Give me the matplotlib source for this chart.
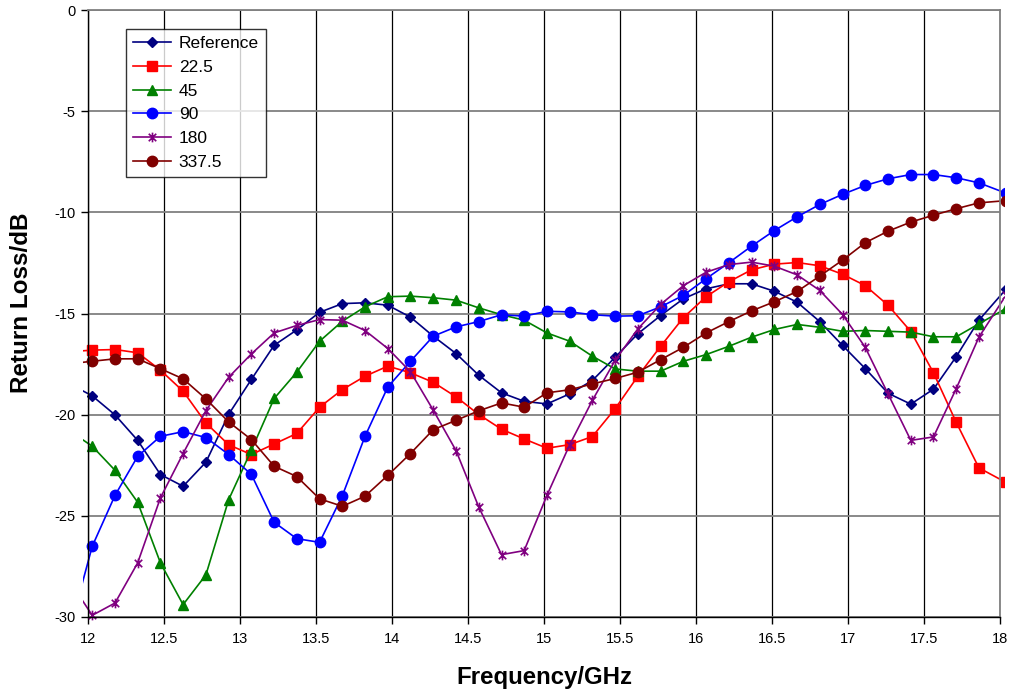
import numpy as np
import matplotlib.pyplot as plt
from matplotlib.path import Path
from matplotlib.transforms import Bbox, TransformedBbox

# sweep points (first and last sit just outside the plotted range)
freq = [11.86, 12.028, 12.178, 12.327, 12.477, 12.626, 12.776, 12.926, 13.075,
        13.225, 13.374, 13.524, 13.674, 13.823, 13.973, 14.122, 14.272, 14.422,
        14.571, 14.721, 14.870, 15.020, 15.170, 15.319, 15.469, 15.618, 15.768,
        15.918, 16.067, 16.217, 16.366, 16.516, 16.666, 16.815, 16.965, 17.114,
        17.264, 17.414, 17.563, 17.713, 17.862, 18.04]

rl_reference = [-18.4, -19.07, -20.01, -21.27, -22.96, -23.54, -22.35, -19.98, -18.26,
                -16.57, -15.81, -14.94, -14.51, -14.47, -14.59, -15.18, -16.12, -16.98,
                -18.05, -18.92, -19.34, -19.47, -18.97, -18.31, -17.16, -16.0, -15.1,
                -14.27, -13.78, -13.53, -13.53, -13.9, -14.44, -15.4, -16.58, -17.72,
                -18.94, -19.48, -18.74, -17.13, -15.33, -13.8]
rl_22_5 = [-16.9, -16.81, -16.78, -16.94, -17.8, -18.84, -20.41, -21.49, -21.97,
           -21.45, -20.93, -19.63, -18.76, -18.1, -17.6, -17.93, -18.4, -19.12,
           -19.99, -20.72, -21.2, -21.66, -21.48, -21.08, -19.7, -18.1, -16.62,
           -15.2, -14.17, -13.43, -12.84, -12.56, -12.48, -12.64, -13.06, -13.62,
           -14.59, -15.89, -17.93, -20.38, -22.63, -23.35]
rl_45 = [-20.7, -21.56, -22.75, -24.33, -27.33, -29.39, -27.92, -24.2, -21.76,
         -19.2, -17.9, -16.37, -15.38, -14.67, -14.17, -14.14, -14.22, -14.34,
         -14.72, -15.06, -15.33, -15.96, -16.37, -17.11, -17.74, -17.85, -17.85,
         -17.36, -17.03, -16.62, -16.17, -15.79, -15.54, -15.68, -15.88, -15.84,
         -15.88, -15.92, -16.15, -16.15, -15.51, -14.75]
rl_90 = [-31.2, -26.51, -23.99, -22.06, -21.07, -20.84, -21.13, -21.97, -22.95,
         -25.32, -26.13, -26.31, -24.0, -21.07, -18.63, -17.36, -16.12, -15.66,
         -15.4, -15.06, -15.13, -14.89, -14.92, -15.06, -15.13, -15.11, -14.67,
         -14.1, -13.28, -12.49, -11.67, -10.9, -10.22, -9.61, -9.11, -8.67,
         -8.34, -8.13, -8.13, -8.29, -8.54, -9.05]
rl_180 = [-28.0, -29.92, -29.31, -27.33, -24.11, -21.92, -19.8, -18.15, -17.0,
          -15.96, -15.59, -15.3, -15.33, -15.84, -16.73, -17.88, -19.78, -21.78,
          -24.56, -26.92, -26.72, -23.99, -21.48, -19.29, -17.31, -15.76, -14.55,
          -13.62, -12.96, -12.58, -12.46, -12.66, -13.09, -13.86, -15.05, -16.67,
          -18.97, -21.27, -21.1, -18.71, -16.17, -14.1]
rl_337_5 = [-17.5, -17.36, -17.24, -17.24, -17.73, -18.23, -19.22, -20.36, -21.23,
            -22.55, -23.06, -24.16, -24.53, -24.03, -23.0, -21.92, -20.74, -20.28,
            -19.81, -19.42, -19.63, -18.92, -18.77, -18.48, -18.21, -17.9, -17.28,
            -16.67, -15.96, -15.4, -14.87, -14.42, -13.91, -13.15, -12.36, -11.5,
            -10.93, -10.48, -10.14, -9.82, -9.53, -9.42]

x_ticks = [12, 12.5, 13, 13.5, 14, 14.5, 15, 15.5, 16, 16.5, 17, 17.5, 18]
x_tick_labels = ["12", "12.5", "13", "13.5", "14", "14.5", "15", "15.5",
                 "16", "16.5", "17", "17.5", "18"]
y_ticks = [0, -5, -10, -15, -20, -25, -30]

# excel style "star": an x with a vertical bar through it
star = Path(
    [(-1, -1), (1, 1), (-1, 1), (1, -1), (0, -1.3), (0, 1.3)],
    [Path.MOVETO, Path.LINETO, Path.MOVETO, Path.LINETO, Path.MOVETO, Path.LINETO],
)

series = [
    ("Reference", rl_reference, "#000080", "D", 5.5),
    ("22.5", rl_22_5, "#FF0000", "s", 6.5),
    ("45", rl_45, "#008000", "^", 7),
    ("90", rl_90, "#0000FF", "o", 7.5),
    ("180", rl_180, "#800080", star, 7),
    ("337.5", rl_337_5, "#800000", "o", 7.5),
]

plt.rcParams['font.family'] = ['Liberation Sans', 'DejaVu Sans']
plt.rcParams['axes.unicode_minus'] = False

fig = plt.figure(figsize=(10.11, 6.94), dpi=100)
ax = fig.add_axes([0.087, 0.111, 0.902, 0.8745])

# lines are allowed to run a few pixels past the plot edges, like the original
clip = TransformedBbox(Bbox([[-0.005, -0.015], [1.005, 1.0]]), ax.transAxes)

for name, vals, color, marker, ms in series:
    if marker is star:
        line, = ax.plot(freq, vals, color=color, lw=1.2, marker=marker, ms=ms,
                        mfc="none", mec=color, mew=1.2, label=name)
    else:
        line, = ax.plot(freq, vals, color=color, lw=1.2, marker=marker, ms=ms,
                        mfc=color, mec=color, label=name)
    line.set_clip_box(clip)

ax.set_xlim(12, 18)
ax.set_ylim(-30, 0)
ax.set_xticks(x_ticks)
ax.set_xticklabels(x_tick_labels)
ax.set_yticks(y_ticks)

ax.xaxis.grid(True, color="black", lw=0.9)
ax.yaxis.grid(True, color="#808080", lw=1.3)
ax.set_axisbelow(True)

for side in ["top", "right"]:
    ax.spines[side].set_color("#808080")
    ax.spines[side].set_linewidth(1.3)
for side in ["left", "bottom"]:
    ax.spines[side].set_color("black")
    ax.spines[side].set_linewidth(1.0)

ax.tick_params(axis="both", direction="out", length=5, width=1,
               labelsize=10.5, color="black", pad=4)
ax.tick_params(axis="x", pad=6)

ax.set_xlabel("Frequency/GHz", fontsize=17.3, fontweight="bold", labelpad=14)
ax.set_ylabel("Return Loss/dB", fontsize=17.5, fontweight="bold")
ax.yaxis.set_label_coords(-0.06, 0.517)

leg = ax.legend(loc="upper left", bbox_to_anchor=(0.0415, 0.969),
                borderaxespad=0, fontsize=12.5, frameon=True, fancybox=False,
                edgecolor="black", handlelength=2.2, handletextpad=0.45,
                labelspacing=0.5, borderpad=0.4)
leg.get_frame().set_linewidth(1.0)
for h in leg.get_lines():
    h.set_clip_on(False)

fig.savefig("out.png", dpi=100)
